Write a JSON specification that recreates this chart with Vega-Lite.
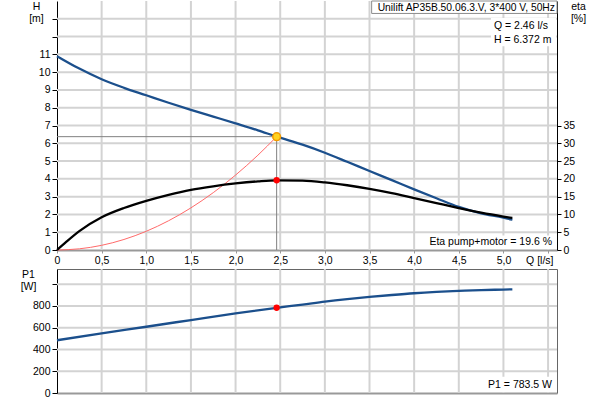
{
  "$schema": "https://vega.github.io/schema/vega-lite/v6.json",
  "autosize": {"type": "pad"},
  "padding": {"left": 20, "top": 0, "right": 5, "bottom": 5},
  "background": "white",
  "spacing": 19,
  "bounds": "flush",
  "config": {
    "font": "Liberation Sans",
    "view": {"stroke": null},
    "axis": {
      "labelFont": "Liberation Sans", "labelFontSize": 10.5, "labelColor": "#000",
      "titleFont": "Liberation Sans", "titleFontSize": 10.5, "titleFontWeight": "normal", "titleColor": "#000",
      "domainColor": "#000", "tickColor": "#000"
    },
    "axisX": {"grid": false, "labelOverlap": false},
    "axisY": {"grid": false, "labelOverlap": false},
    "text": {"font": "Liberation Sans", "fontSize": 10.5, "color": "#000"}
  },
  "datasets": {
    "gx": [
      {"q": 0.5}, {"q": 1.0}, {"q": 1.5}, {"q": 2.0}, {"q": 2.5}, {"q": 3.0},
      {"q": 3.5}, {"q": 4.0}, {"q": 4.5}, {"q": 5.0}, {"q": 5.5}
    ],
    "gh": [
      {"h": 1}, {"h": 2}, {"h": 3}, {"h": 4}, {"h": 5}, {"h": 6}, {"h": 7},
      {"h": 8}, {"h": 9}, {"h": 10}, {"h": 11}, {"h": 12}, {"h": 13}
    ],
    "gp": [{"p": 200}, {"p": 400}, {"p": 600}, {"p": 800}, {"p": 1000}],
    "hq": [
      {"q": 0, "h": 10.9}, {"q": 0.25, "h": 10.2}, {"q": 0.5, "h": 9.6}, {"q": 0.75, "h": 9.12},
      {"q": 1.0, "h": 8.7}, {"q": 1.25, "h": 8.28}, {"q": 1.5, "h": 7.88}, {"q": 1.75, "h": 7.5},
      {"q": 2.0, "h": 7.12}, {"q": 2.25, "h": 6.73}, {"q": 2.46, "h": 6.372}, {"q": 2.75, "h": 5.92},
      {"q": 3.0, "h": 5.47}, {"q": 3.25, "h": 4.96}, {"q": 3.5, "h": 4.44}, {"q": 3.75, "h": 3.93},
      {"q": 4.0, "h": 3.41}, {"q": 4.25, "h": 2.91}, {"q": 4.5, "h": 2.42}, {"q": 4.75, "h": 2.06},
      {"q": 5.0, "h": 1.82}, {"q": 5.1, "h": 1.7}
    ],
    "eta": [
      {"q": 0, "eta": 0}, {"q": 0.1, "eta": 2.2}, {"q": 0.25, "eta": 5.3}, {"q": 0.5, "eta": 9.2},
      {"q": 0.75, "eta": 11.8}, {"q": 1.0, "eta": 13.8}, {"q": 1.25, "eta": 15.5}, {"q": 1.5, "eta": 16.9},
      {"q": 1.75, "eta": 17.9}, {"q": 2.0, "eta": 18.7}, {"q": 2.25, "eta": 19.3}, {"q": 2.46, "eta": 19.6},
      {"q": 2.75, "eta": 19.5}, {"q": 3.0, "eta": 19.0}, {"q": 3.25, "eta": 18.2}, {"q": 3.5, "eta": 17.2},
      {"q": 3.75, "eta": 16.0}, {"q": 4.0, "eta": 14.6}, {"q": 4.25, "eta": 13.2}, {"q": 4.5, "eta": 11.8},
      {"q": 4.75, "eta": 10.5}, {"q": 5.0, "eta": 9.4}, {"q": 5.1, "eta": 9.0}
    ],
    "sys": [
      {"q": 0, "h": 0}, {"q": 0.25, "h": 0.066}, {"q": 0.5, "h": 0.263}, {"q": 0.75, "h": 0.592},
      {"q": 1.0, "h": 1.053}, {"q": 1.25, "h": 1.645}, {"q": 1.5, "h": 2.369}, {"q": 1.75, "h": 3.225},
      {"q": 2.0, "h": 4.212}, {"q": 2.25, "h": 5.33}, {"q": 2.46, "h": 6.372}
    ],
    "cross": [
      {"i": 0, "q": 0, "h": 6.372}, {"i": 1, "q": 2.46, "h": 6.372}, {"i": 2, "q": 2.46, "h": 0}
    ],
    "p1": [
      {"q": 0, "p": 485}, {"q": 0.5, "p": 548}, {"q": 1.0, "p": 609}, {"q": 1.5, "p": 671},
      {"q": 2.0, "p": 733}, {"q": 2.46, "p": 783.5}, {"q": 2.75, "p": 813}, {"q": 3.0, "p": 840},
      {"q": 3.25, "p": 863}, {"q": 3.5, "p": 883}, {"q": 3.75, "p": 901}, {"q": 4.0, "p": 917},
      {"q": 4.25, "p": 929}, {"q": 4.5, "p": 938}, {"q": 4.75, "p": 946}, {"q": 5.0, "p": 951},
      {"q": 5.1, "p": 953}
    ],
    "op": [{"q": 2.46, "h": 6.372, "eta": 19.6, "p": 783.5}]
  },
  "vconcat": [
    {
      "width": 500,
      "height": 249,
      "resolve": {"scale": {"y": "independent"}},
      "layer": [
        {
          "layer": [
            {
              "data": {"name": "gx"},
              "mark": {"type": "rule", "color": "#d3d3d3", "strokeWidth": 2},
              "encoding": {
                "x": {"field": "q", "type": "quantitative"}
              }
            },
            {
              "data": {"name": "gh"},
              "mark": {"type": "rule", "color": "#d3d3d3", "strokeWidth": 2},
              "encoding": {
                "y": {"field": "h", "type": "quantitative"}
              }
            },
            {
              "data": {"name": "hq"},
              "mark": {"type": "line", "color": "#1b4f8c", "strokeWidth": 2.3, "interpolate": "monotone"},
              "encoding": {
                "x": {
                  "field": "q", "type": "quantitative",
                  "scale": {"domain": [0, 5.6], "nice": false, "zero": false},
                  "axis": {
                    "values": [0, 0.5, 1, 1.5, 2, 2.5, 3, 3.5, 4, 4.5, 5, 5.5],
                    "tickCount": 30,
                    "labelExpr": "datum.value == 0 ? '0' : datum.value == 5.5 ? '' : replace(format(datum.value, '.1f'), '.', ',')",
                    "labelBaseline": "top", "labelPadding": 2, "tickSize": 3, "tickColor": "#999",
                    "domainColor": "#999", "domainWidth": 2, "labelFlush": false,
                    "title": "Q [l/s]", "titleX": 496, "titleY": 10, "titleAlign": "right", "titleBaseline": "middle"
                  }
                },
                "y": {
                  "field": "h", "type": "quantitative",
                  "scale": {"domain": [0, 14], "nice": false, "zero": false},
                  "axis": {
                    "values": [0, 1, 2, 3, 4, 5, 6, 7, 8, 9, 10, 11, 12, 13],
                    "tickCount": 30, "format": "d",
                    "labelExpr": "datum.value > 11 ? '' : datum.label",
                    "tickSize": 5, "labelPadding": 2,
                    "title": ["H", "[m]"], "titleAngle": 0, "titleX": -21, "titleY": 0,
                    "titleAlign": "center", "titleBaseline": "top", "titleLineHeight": 12.5
                  }
                }
              }
            },
            {
              "data": {"name": "sys"},
              "mark": {"type": "line", "color": "#ff6a6a", "strokeWidth": 1, "interpolate": "monotone"},
              "encoding": {
                "x": {"field": "q", "type": "quantitative"},
                "y": {"field": "h", "type": "quantitative"}
              }
            },
            {
              "data": {"name": "cross"},
              "mark": {"type": "line", "color": "#808080", "strokeWidth": 1},
              "encoding": {
                "x": {"field": "q", "type": "quantitative"},
                "y": {"field": "h", "type": "quantitative"},
                "order": {"field": "i", "type": "quantitative"}
              }
            },
            {
              "data": {"name": "op"},
              "mark": {"type": "point", "filled": true, "size": 60, "fill": "#ffd21f", "stroke": "#f39a00", "strokeWidth": 1.5, "opacity": 1},
              "encoding": {
                "x": {"field": "q", "type": "quantitative"},
                "y": {"field": "h", "type": "quantitative"}
              }
            },
            {
              "data": {"values": [{}]},
              "mark": {"type": "rect", "fill": "white", "stroke": "#8c8c8c", "strokeWidth": 1},
              "encoding": {
                "x": {"datum": 3.524, "type": "quantitative"}, "x2": {"datum": 5.6},
                "y": {"datum": 13.3, "type": "quantitative"}, "y2": {"datum": 14}
              }
            },
            {
              "data": {"values": [{}]},
              "mark": {"type": "text", "align": "right", "baseline": "middle", "fontSize": 10.3, "text": "Unilift AP35B.50.06.3.V, 3*400 V, 50Hz"},
              "encoding": {
                "x": {"datum": 5.577, "type": "quantitative"},
                "y": {"datum": 13.6, "type": "quantitative"}
              }
            },
            {
              "data": {"values": [{}]},
              "mark": {"type": "rect", "fill": "white"},
              "encoding": {
                "x": {"datum": 4.86, "type": "quantitative"}, "x2": {"datum": 5.59},
                "y": {"datum": 11.45, "type": "quantitative"}, "y2": {"datum": 13.05}
              }
            },
            {
              "data": {"values": [{"label": "Q = 2.46 l/s", "yy": 12.594}, {"label": "H = 6.372 m", "yy": 11.807}]},
              "mark": {"type": "text", "align": "left", "baseline": "middle"},
              "encoding": {
                "x": {"datum": 4.894, "type": "quantitative"},
                "y": {"field": "yy", "type": "quantitative"},
                "text": {"field": "label"}
              }
            },
            {
              "data": {"values": [{}]},
              "mark": {"type": "rect", "fill": "white"},
              "encoding": {
                "x": {"datum": 4.14, "type": "quantitative"}, "x2": {"datum": 5.59},
                "y": {"datum": 0.06, "type": "quantitative"}, "y2": {"datum": 0.82}
              }
            },
            {
              "data": {"values": [{}]},
              "mark": {"type": "text", "align": "right", "baseline": "middle", "text": "Eta pump+motor = 19.6 %"},
              "encoding": {
                "x": {"datum": 5.544, "type": "quantitative"},
                "y": {"datum": 0.45, "type": "quantitative"}
              }
            }
          ]
        },
        {
          "layer": [
            {
              "data": {"name": "eta"},
              "mark": {"type": "line", "color": "#000", "strokeWidth": 2.3, "interpolate": "monotone"},
              "encoding": {
                "x": {"field": "q", "type": "quantitative"},
                "y": {
                  "field": "eta", "type": "quantitative",
                  "scale": {"domain": [0, 70], "nice": false, "zero": false},
                  "axis": {
                    "orient": "right", "grid": false,
                    "values": [0, 5, 10, 15, 20, 25, 30, 35],
                    "tickCount": 30, "format": "d",
                    "tickSize": 4, "labelPadding": 2,
                    "title": ["eta", "[%]"], "titleAngle": 0, "titleX": 21, "titleY": 0,
                    "titleAlign": "center", "titleBaseline": "top", "titleLineHeight": 12.5
                  }
                }
              }
            },
            {
              "data": {"name": "op"},
              "mark": {"type": "circle", "size": 40, "color": "#ff0000", "opacity": 1},
              "encoding": {
                "x": {"field": "q", "type": "quantitative"},
                "y": {"field": "eta", "type": "quantitative"}
              }
            }
          ]
        }
      ]
    },
    {
      "width": 500,
      "height": 124,
      "resolve": {"axis": {"x": "independent", "y": "independent"}},
      "layer": [
        {
          "data": {"name": "gx"},
          "mark": {"type": "rule", "color": "#d3d3d3", "strokeWidth": 2},
          "encoding": {
            "x": {"field": "q", "type": "quantitative", "axis": null, "scale": {"domain": [0, 5.6], "nice": false, "zero": false}}
          }
        },
        {
          "data": {"name": "gp"},
          "mark": {"type": "rule", "color": "#d3d3d3", "strokeWidth": 2},
          "encoding": {
            "y": {"field": "p", "type": "quantitative", "axis": null, "scale": {"domain": [0, 1140], "nice": false, "zero": false}}
          }
        },
        {
          "data": {"values": [{}]},
          "mark": {"type": "rect", "fill": "white"},
          "encoding": {
            "x": {"datum": 4.81, "type": "quantitative", "axis": null},
            "x2": {"datum": 5.59},
            "y": {"datum": 9, "type": "quantitative", "axis": null},
            "y2": {"datum": 150}
          }
        },
        {
          "data": {"name": "p1"},
          "mark": {"type": "line", "color": "#1b4f8c", "strokeWidth": 2.3, "interpolate": "monotone"},
          "encoding": {
            "x": {
              "field": "q", "type": "quantitative",
              "axis": {
                "orient": "bottom",
                "values": [0, 0.5, 1, 1.5, 2, 2.5, 3, 3.5, 4, 4.5, 5, 5.5],
                "tickCount": 30, "grid": false,
                "labels": false, "ticks": false, "domainColor": "#999", "domainWidth": 2, "title": null
              }
            },
            "y": {
              "field": "p", "type": "quantitative",
              "axis": {
                "orient": "left", "grid": false,
                "values": [0, 200, 400, 600, 800, 1000],
                "tickCount": 30, "format": "d",
                "labelExpr": "datum.value > 900 ? '' : datum.label",
                "tickSize": 5, "labelPadding": 2,
                "title": ["P1", "[W]"], "titleAngle": 0, "titleX": -29, "titleY": 0,
                "titleAlign": "center", "titleBaseline": "top", "titleLineHeight": 12.5
              }
            }
          }
        },
        {
          "data": {"name": "op"},
          "mark": {"type": "circle", "size": 40, "color": "#ff0000", "opacity": 1},
          "encoding": {
            "x": {
              "field": "q", "type": "quantitative",
              "axis": {"orient": "top", "grid": false, "labels": false, "ticks": false, "domainColor": "#666", "domainWidth": 1, "title": null}
            },
            "y": {
              "field": "p", "type": "quantitative",
              "axis": {"orient": "right", "grid": false, "labels": false, "ticks": false, "domainColor": "#666", "domainWidth": 1, "title": null}
            }
          }
        },
        {
          "data": {"values": [{}]},
          "mark": {"type": "text", "align": "right", "baseline": "middle", "text": "P1 = 783.5 W"},
          "encoding": {
            "x": {"datum": 5.544, "type": "quantitative", "axis": null},
            "y": {"datum": 73.6, "type": "quantitative", "axis": null}
          }
        }
      ]
    }
  ]
}
